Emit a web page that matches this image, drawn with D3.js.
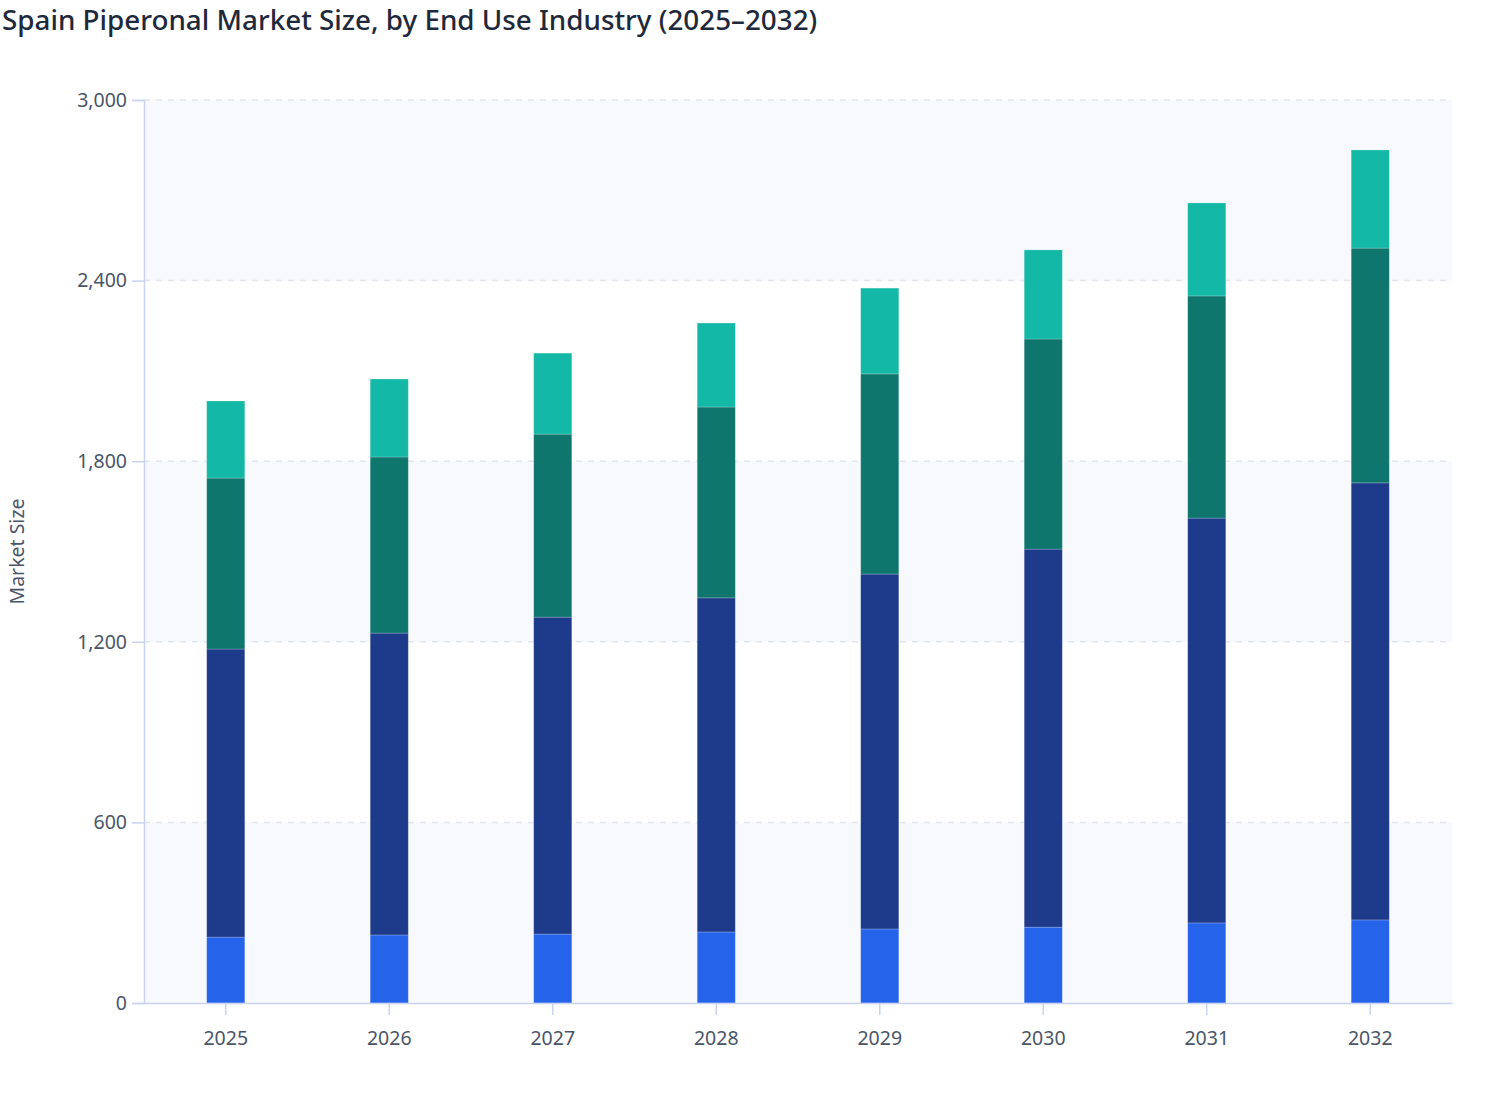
<!DOCTYPE html>
<html>
<head>
<meta charset="utf-8">
<script src="https://cdn.jsdelivr.net/npm/d3@7"></script>
<style>
  body { margin: 0; background: #fff; }
  svg { display: block; font-family: "Noto Sans", "Open Sans", sans-serif; }
</style>
</head>
<body>
<svg id="chart" width="1508" height="1120"></svg>
<script>
// values
const years = ['2025', '2026', '2027', '2028', '2029', '2030', '2031', '2032']
const seriesNames = ['Segment A', 'Segment B', 'Segment C', 'Segment D']
const segA = [219, 226, 229, 236, 246, 252, 266, 276]
const segB = [957, 1003, 1053, 1110, 1179, 1256, 1345, 1452]
const segC = [568, 585, 608, 634, 665, 698, 738, 780]
const segD = [256, 259, 269, 279, 285, 296, 309, 326]
const yTicks = [0, 600, 1200, 1800, 2400, 3000]
const colors = ['#2563eb', '#1e3a8a', '#0f766e', '#14b8a6']

const svg = d3.select('#chart')
const m = { top: 100, right: 56, bottom: 117, left: 144 }
const W = 1508, H = 1120
const iw = W - m.left - m.right
const ih = H - m.top - m.bottom

const rows = years.map((y, i) => ({
    year: y, 'Segment A': segA[i], 'Segment B': segB[i], 'Segment C': segC[i], 'Segment D': segD[i]
}))
const stacked = d3.stack().keys(seriesNames)(rows)

const x = d3.scaleBand().domain(years).range([0, iw]).paddingInner(0.767).paddingOuter(0.3835)
const y = d3.scaleLinear().domain([0, 3000]).range([ih, 0])

svg.append('text')
    .attr('x', 2).attr('y', 30)
    .attr('fill', '#1e293b')
    .style('font-size', '27.8px')
    .style('font-weight', 500)
    .text('Spain Piperonal Market Size, by End Use Industry (2025–2032)')

const g = svg.append('g').attr('transform', `translate(${m.left},${m.top})`)

// alternating background bands
g.selectAll('.band').data(d3.pairs(yTicks)).enter().append('rect')
    .attr('class', 'band')
    .attr('x', 0).attr('width', iw)
    .attr('y', d => y(d[1])).attr('height', d => y(d[0]) - y(d[1]))
    .attr('fill', (d, i) => i % 2 === 0 ? '#f8f9fc' : '#ffffff')

// gridlines
g.selectAll('.grid').data(yTicks.slice(1)).enter().append('line')
    .attr('class', 'grid')
    .attr('x1', 0).attr('x2', iw - 4)
    .attr('y1', d => y(d)).attr('y2', d => y(d))
    .attr('stroke', '#e2e5ec')
    .attr('stroke-width', 1.5)
    .attr('stroke-dasharray', '6,6')

// bars
g.selectAll('.series').data(stacked).enter().append('g')
    .attr('class', 'series')
    .attr('fill', (d, i) => colors[i])
    .selectAll('rect').data(d => d).enter().append('rect')
        .attr('x', d => x(d.data.year))
        .attr('width', x.bandwidth())
        .attr('y', d => y(d[1]))
        .attr('height', d => y(d[0]) - y(d[1]))
        .attr('stroke', 'rgba(255,255,255,0.25)')
        .attr('stroke-width', 0.8)

// y axis
const yAxis = g.append('g')
    .call(d3.axisLeft(y).tickValues(yTicks).tickSize(12).tickPadding(5).tickFormat(d3.format(',')))
yAxis.select('.domain').attr('stroke', '#c9d3f0').attr('stroke-width', 1.5)
yAxis.selectAll('.tick line').attr('stroke', '#c9d3f0').attr('stroke-width', 1.5)
yAxis.selectAll('.tick text').attr('fill', '#4a5568').style('font-size', '19.5px')
    .style('font-family', '"Noto Sans", sans-serif')

// x axis
const xAxis = g.append('g')
    .attr('transform', `translate(0,${ih})`)
    .call(d3.axisBottom(x).tickSize(12).tickPadding(16).tickSizeOuter(0))
xAxis.select('.domain').attr('stroke', '#c9d3f0').attr('stroke-width', 1.5)
xAxis.selectAll('.tick line').attr('stroke', '#c9d3f0').attr('stroke-width', 1.5)
xAxis.selectAll('.tick text').attr('fill', '#4a5568').style('font-size', '19.5px')
    .style('font-family', '"Noto Sans", sans-serif')

svg.append('text')
    .attr('transform', `translate(24,${m.top + ih / 2}) rotate(-90)`)
    .attr('text-anchor', 'middle')
    .attr('fill', '#4a5568')
    .style('font-size', '19.5px')
    .text('Market Size')
</script>
</body>
</html>
